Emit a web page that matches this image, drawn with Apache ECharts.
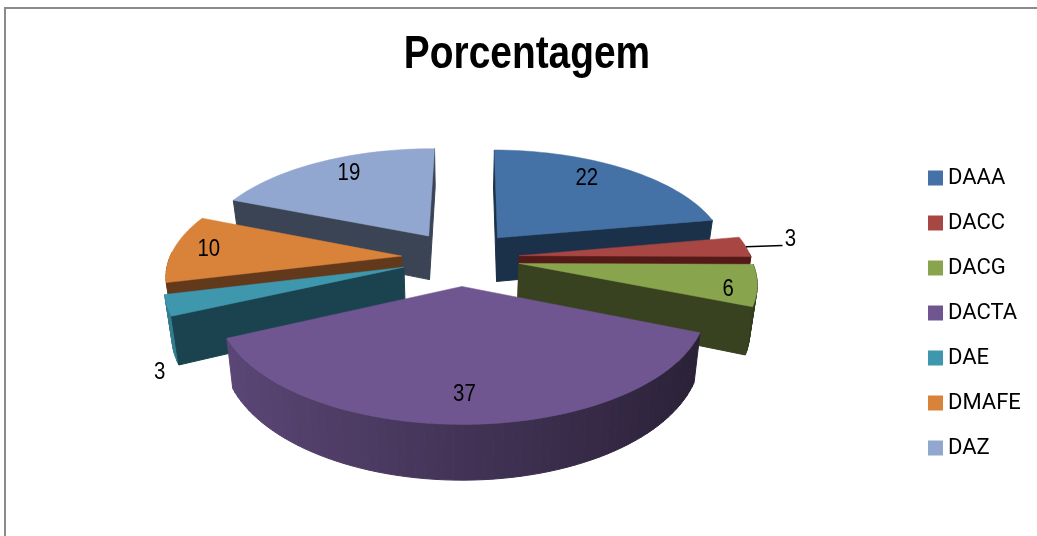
<!DOCTYPE html>
<html>
<head>
<meta charset="utf-8">
<title>Porcentagem</title>
<script src="https://cdn.jsdelivr.net/npm/echarts@6/dist/echarts.min.js"></script>
<style>
    html, body { margin: 0; padding: 0; background: #fff; }
    #chart { width: 1037px; height: 536px; }
</style>
</head>
<body>
<div id="chart"></div>
<script>
    const categories = ['DAAA', 'DACC', 'DACG', 'DACTA', 'DAE', 'DMAFE', 'DAZ']
    const values = [22, 3, 6, 37, 3, 10, 19]

    const topColors = ['#4471a6', '#a84644', '#88a54e', '#6f5690', '#3f97ae', '#d9823a', '#92a7cf']
    const sideColors = ['#1a3149', '#541a18', '#384220', '#2f2540', '#1b434f', '#62391a', '#3a4455']
    // label offset from the slice's 70% radius point, px
    const labelShift = [[-2, -9], [112, -10], [44, 11], [-2, 17], [-81, 79], [-33, -1], [-2, -9]]

    const fontName = '"Liberation Sans", Arial, sans-serif'

    // fake 3D pie: perspective over a tilted disc
    const cx = 460.5, cy = 258
    const scaleX = 232, scaleY = 107, depth = 6.5
    const explode = 0.255, wall = 45, wallShrink = 0.975
    const firstAngle = 0.5
    const RAD = Math.PI / 180

    function project(deg, r, mid, down) {
        const wx = r * Math.sin(deg * RAD) + explode * Math.sin(mid * RAD)
        const t = -r * Math.cos(deg * RAD) - explode * Math.cos(mid * RAD)
        const p = depth / (depth - t)
        let x = scaleX * wx * p
        let y = scaleY * t * p
        if (down) {
            x = x * wallShrink
            y = y + wall * p
        }
        return [cx + x, cy + y]
    }

    function shade(hex, k) {
        const n = parseInt(hex.slice(1), 16)
        const c = [n >> 16, (n >> 8) & 255, n & 255].map(v => Math.round(v * k))
        return 'rgb(' + c.join(',') + ')'
    }

    const total = values.reduce((a, b) => a + b, 0)
    let acc = 0
    const slices = values.map(v => {
        const s = { start: firstAngle + acc / total * 360, end: firstAngle + (acc + v) / total * 360 }
        acc += v
        s.mid = (s.start + s.end) / 2
        return s
    })

    // draw back slices first, front ones over them
    const order = slices.map((s, i) => i).sort((a, b) => Math.cos(slices[b].mid * RAD) - Math.cos(slices[a].mid * RAD))

    function renderSlice(i, api) {
        const s = slices[i]
        const apexTop = project(0, 0, s.mid, false)
        const apexLow = project(0, 0, s.mid, true)
        const children = []
        const rim = []
        const steps = Math.max(2, Math.ceil((s.end - s.start) / 2))
        for (let k = 0; k <= steps; k++) {
            rim.push(s.start + (s.end - s.start) * k / steps)
        }

        // outer wall, only the part facing the viewer
        for (let k = 0; k < steps; k++) {
            const a0 = rim[k], a1 = rim[k + 1]
            if (Math.cos((a0 + a1) / 2 * RAD) > 0.02) continue
            const c = shade(topColors[i], 0.6 - 0.24 * Math.sin((a0 + a1) / 2 * RAD))
            children.push({
                type: 'polygon',
                shape: { points: [project(a0, 1, s.mid, false), project(a1, 1, s.mid, false), project(a1, 1, s.mid, true), project(a0, 1, s.mid, true)] },
                style: { fill: c, stroke: c, lineWidth: 1 }
            })
        }

        // radial faces, skip the ones turned away
        const faces = []
        if (-Math.sin(s.start * RAD) > -0.03) faces.push(s.start)
        if (Math.sin(s.end * RAD) > -0.03) faces.push(s.end)
        faces.forEach(deg => {
            children.push({
                type: 'polygon',
                shape: { points: [apexTop, project(deg, 1, s.mid, false), project(deg, 1, s.mid, true), apexLow] },
                style: { fill: sideColors[i], stroke: sideColors[i], lineWidth: 1 }
            })
        })

        // top face
        children.push({
            type: 'polygon',
            shape: { points: [apexTop].concat(rim.map(deg => project(deg, 1, s.mid, false))) },
            style: { fill: topColors[i], stroke: topColors[i], lineWidth: 0.5 }
        })

        const lp = project(s.mid, 0.7, s.mid, false)
        const lx = lp[0] + labelShift[i][0]
        const ly = lp[1] + labelShift[i][1]

        // small DACC slice gets a leader line
        if (categories[i] === 'DACC') {
            const edge = project(s.mid, 1, s.mid, false)
            children.push({
                type: 'polyline',
                shape: { points: [edge, [lx - 8, ly + 6]] },
                style: { stroke: '#000', lineWidth: 1.5, fill: null }
            })
        }

        children.push({
            type: 'text',
            x: lx,
            y: ly,
            scaleX: 0.85,
            style: {
                text: String(api.value(0)),
                fill: '#000',
                font: '24px ' + fontName,
                align: 'center',
                verticalAlign: 'middle'
            }
        })
        return { type: 'group', children: children }
    }

    const series = categories.map((name, i) => ({
        name: name,
        type: 'custom',
        coordinateSystem: 'none',
        z: 2 + order.indexOf(i),
        itemStyle: { color: topColors[i] },
        silent: true,
        renderItem: (params, api) => renderSlice(i, api),
        data: [{ name: name, value: [values[i]] }]
    }))

    const mChart = echarts.init(document.getElementById('chart'))
    mChart.setOption({
        animation: false,
        backgroundColor: '#fff',
        legend: {
            data: categories,
            orient: 'vertical',
            left: 928,
            top: 167,
            padding: 0,
            icon: 'rect',
            itemWidth: 15,
            itemHeight: 15,
            itemGap: 23,
            selectedMode: false,
            textStyle: {
                fontFamily: 'Roboto, sans-serif',
                fontSize: 22,
                color: '#000'
            }
        },
        graphic: [{
            type: 'polyline',
            silent: true,
            shape: { points: [[5, 536], [5, 8], [1037, 8]] },
            style: { stroke: '#8a8a8a', lineWidth: 2, fill: null }
        }, {
            // the original title is a narrow bold face, squeeze it
            type: 'text',
            silent: true,
            x: 527,
            y: 55,
            scaleX: 0.845,
            style: {
                text: 'Porcentagem',
                fill: '#000',
                font: 'bold 46px ' + fontName,
                align: 'center',
                verticalAlign: 'middle'
            }
        }],
        series: series
    })
</script>
</body>
</html>
